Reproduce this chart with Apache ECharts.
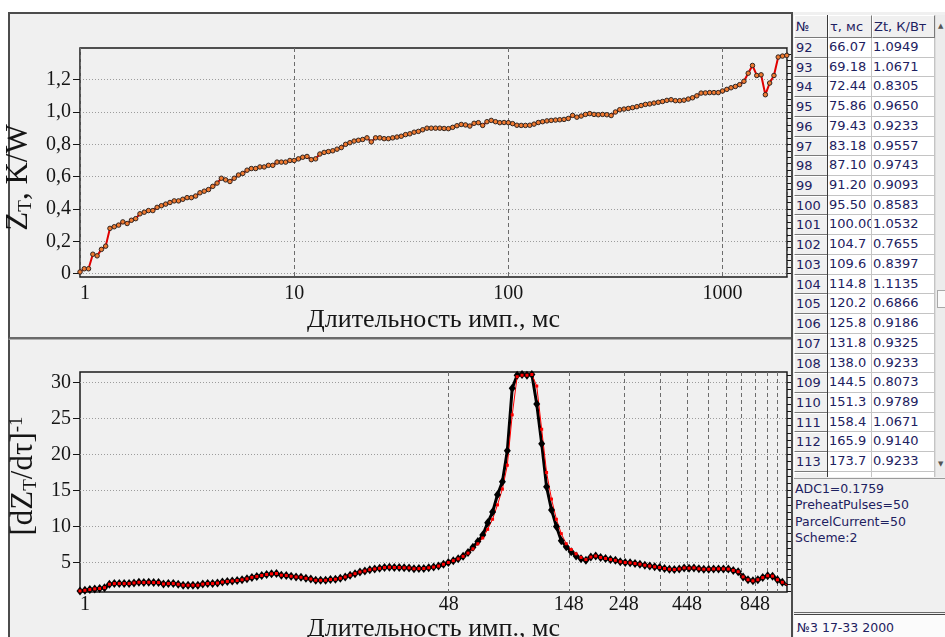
<!DOCTYPE html>
<html>
<head>
<meta charset="utf-8">
<script src="https://cdn.jsdelivr.net/npm/echarts@6/dist/echarts.min.js"></script>
<style>
  html, body { margin: 0; padding: 0; width: 945px; height: 637px; overflow: hidden; background: #fff; position: relative; }
  .abs { position: absolute; box-sizing: border-box; }
  #pTop { left: 8px; top: 12px; width: 785px; height: 327px; background: #f0f0f0;
          border-left: 2px solid #4c4c4c; border-top: 2px solid #4c4c4c; border-bottom: 2px solid #6a6a6a; }
  #pBot { left: 8px; top: 339px; width: 785px; height: 298px; background: #f0f0f0;
          border-left: 2px solid #4c4c4c; border-top: 1px solid #b0b0b0; }
  #vline { left: 791px; top: 12px; width: 2px; height: 625px; background: #4c4c4c; }
  #chart { position: absolute; left: 0; top: 0; width: 793px; height: 637px; }
  #right { left: 793px; top: 12px; width: 152px; height: 625px; background: #f0f0f0; }
  #tbl { left: 794px; top: 15px; width: 141px; height: 462px; background: #fff; overflow: hidden;
         font-family: "DejaVu Sans", sans-serif; font-size: 13px; color: #1d2160; }
  .cell { position: absolute; box-sizing: border-box; white-space: nowrap; overflow: hidden; padding-left: 1px; }
  .btn { background: #f0f0f0; border-top: 1px solid #fff; border-left: 1px solid #fff;
         border-right: 1px solid #7a7a7a; border-bottom: 1px solid #7a7a7a; }
  .val { background: #fff; border-right: 1px solid #c4c4c4; border-bottom: 1px solid #c4c4c4; }
  #scroll { left: 935px; top: 15px; width: 17px; height: 462px; background: #ececec; border-left: 1px solid #dcdcdc; }
  #thumb { left: 937px; top: 290px; width: 15px; height: 18px; background: #fafafa; border: 1px solid #a8a8a8; }
  .arrow { font-family: "DejaVu Sans", sans-serif; font-size: 7px; color: #555; }
  #info { left: 794px; top: 478px; width: 151px; height: 135px; background: #f0f0f0;
          border-top: 1px solid #9a9a9a; border-bottom: 1px solid #6a6a6a; padding: 2px 0 0 1px;
          font-family: "DejaVu Sans", sans-serif; font-size: 12.5px; line-height: 16.3px; color: #1d2160; }
  #foot { left: 794px; top: 614px; width: 151px; height: 23px; background: #fbfbfb; border-top: 1px solid #444;
          padding: 5px 0 0 3px; font-family: "DejaVu Sans", sans-serif; font-size: 12.5px; color: #1d2160; }
</style>
</head>
<body>
<div id="pTop" class="abs"></div>
<div id="pBot" class="abs"></div>
<div id="chart"></div>
<div id="vline" class="abs"></div>
<div id="right" class="abs"></div>
<div id="tbl" class="abs"></div>
<div id="scroll" class="abs"></div>
<div id="thumb" class="abs"></div>
<div class="abs arrow" style="left:938px;top:22px;">▲</div>
<div class="abs arrow" style="left:938px;top:460px;">▼</div>
<div id="info" class="abs"></div>
<div id="foot" class="abs"></div>

<script>
// pulse duration grid, ms (same grid for both charts)
const tau = [
  1.000, 1.047, 1.096, 1.148, 1.202, 1.259, 1.318, 1.380, 1.445, 1.514,
  1.585, 1.660, 1.738, 1.820, 1.905, 1.995, 2.089, 2.188, 2.291, 2.399,
  2.512, 2.630, 2.754, 2.884, 3.020, 3.162, 3.311, 3.467, 3.631, 3.802,
  3.981, 4.169, 4.365, 4.571, 4.786, 5.012, 5.248, 5.495, 5.754, 6.026,
  6.310, 6.607, 6.918, 7.244, 7.586, 7.943, 8.318, 8.710, 9.120, 9.550,
  10.00, 10.47, 10.96, 11.48, 12.02, 12.59, 13.18, 13.80, 14.45, 15.14,
  15.85, 16.60, 17.38, 18.20, 19.05, 19.95, 20.89, 21.88, 22.91, 23.99,
  25.12, 26.30, 27.54, 28.84, 30.20, 31.62, 33.11, 34.67, 36.31, 38.02,
  39.81, 41.69, 43.65, 45.71, 47.86, 50.12, 52.48, 54.95, 57.54, 60.26,
  63.10, 66.07, 69.18, 72.44, 75.86, 79.43, 83.18, 87.10, 91.20, 95.50,
  100.0, 104.7, 109.6, 114.8, 120.2, 125.9, 131.8, 138.0, 144.5, 151.4,
  158.5, 166.0, 173.8, 182.0, 190.5, 199.5, 208.9, 218.8, 229.1, 239.9,
  251.2, 263.0, 275.4, 288.4, 302.0, 316.2, 331.1, 346.7, 363.1, 380.2,
  398.1, 416.9, 436.5, 457.1, 478.6, 501.2, 524.8, 549.5, 575.4, 602.6,
  631.0, 660.7, 691.8, 724.4, 758.6, 794.3, 831.8, 871.0, 912.0, 955.0,
  1000, 1047, 1096, 1148, 1202, 1259, 1318, 1380, 1445, 1514,
  1585, 1660, 1738, 1820, 1905, 1995
];

// thermal impedance Zt, K/W (top chart)
const zt = [
  0.01, 0.03, 0.03, 0.12, 0.11, 0.15, 0.17, 0.28, 0.29, 0.30,
  0.32, 0.31, 0.33, 0.34, 0.37, 0.38, 0.39, 0.39, 0.41, 0.42,
  0.43, 0.44, 0.45, 0.45, 0.46, 0.47, 0.47, 0.48, 0.50, 0.51,
  0.52, 0.54, 0.56, 0.59, 0.58, 0.57, 0.59, 0.61, 0.62, 0.64,
  0.65, 0.65, 0.66, 0.66, 0.67, 0.67, 0.69, 0.69, 0.69, 0.70,
  0.70, 0.71, 0.72, 0.725, 0.705, 0.71, 0.74, 0.75, 0.755, 0.76,
  0.77, 0.78, 0.80, 0.81, 0.82, 0.825, 0.83, 0.84, 0.815, 0.84,
  0.84, 0.835, 0.835, 0.84, 0.845, 0.85, 0.86, 0.865, 0.875, 0.88,
  0.89, 0.90, 0.90, 0.90, 0.90, 0.898, 0.897, 0.905, 0.915, 0.923,
  0.92, 0.913, 0.93, 0.934, 0.917, 0.94, 0.948, 0.94, 0.934, 0.935,
  0.934, 0.928, 0.918, 0.917, 0.917, 0.918, 0.925, 0.935, 0.94, 0.945,
  0.948, 0.95, 0.952, 0.954, 0.96, 0.979, 0.968, 0.975, 0.985, 0.99,
  0.985, 0.983, 0.985, 0.983, 0.978, 1.0, 1.014, 1.018, 1.022, 1.027,
  1.033, 1.04, 1.047, 1.05, 1.055, 1.06, 1.065, 1.072, 1.076, 1.07,
  1.07, 1.073, 1.08, 1.088, 1.10, 1.117, 1.118, 1.12, 1.12, 1.12,
  1.13, 1.14, 1.15, 1.158, 1.169, 1.19, 1.24, 1.288, 1.226, 1.23,
  1.107, 1.179, 1.226, 1.34, 1.346, 1.35
];

// [dZt/dtau]^-1, bottom chart, starts at tau[9]
const derivStart = 9;
const derivBlack = [
  1.05, 1.14, 1.24, 1.33, 1.38, 1.5, 1.98, 2.07, 2.07, 2.07,
  2.07, 2.16, 2.25, 2.21, 2.25, 2.21, 2.21, 2.02, 2.07, 2.07,
  1.98, 1.84, 1.84, 1.84, 1.84, 2.0, 2.07, 2.07, 2.14, 2.28,
  2.37, 2.43, 2.5, 2.6, 2.73, 2.93, 3.06, 3.19, 3.33, 3.42,
  3.47, 3.23, 3.2, 3.08, 2.99, 2.95, 2.8, 2.7, 2.53, 2.53,
  2.53, 2.63, 2.67, 2.81, 2.99, 3.22, 3.45, 3.68, 3.82, 4.0,
  4.1, 4.19, 4.29, 4.34, 4.3, 4.3, 4.26, 4.25, 4.13, 4.15,
  4.16, 4.26, 4.36, 4.5, 4.75, 5.0, 5.25, 5.5, 5.85, 6.4,
  7.1, 7.9, 8.8, 10.5, 12.0, 14.4, 16.2, 20.5, 29.2, 31.0,
  31.1, 31.0, 31.1, 27.0, 21.5, 15.5, 12.3, 10.0, 8.0, 7.2,
  6.5, 5.9, 5.5, 5.3, 5.75, 5.9, 5.7, 5.55, 5.4, 5.3,
  5.1, 5.0, 4.95, 4.86, 4.76, 4.62, 4.5, 4.4, 4.3, 4.17,
  4.07, 4.02, 4.1, 4.24, 4.2, 4.25, 4.12, 4.07, 4.06, 4.1,
  4.11, 4.11, 4.08, 3.9, 3.72, 3.0, 2.6, 2.45, 2.6, 2.9,
  3.15, 3.1, 2.6, 2.25, 1.84
];
const derivRed = [
  1.05, 1.14, 1.24, 1.33, 1.38, 1.5, 1.98, 2.07, 2.07, 2.07,
  2.07, 2.16, 2.25, 2.21, 2.25, 2.21, 2.21, 2.02, 2.07, 2.07,
  1.98, 1.84, 1.84, 1.84, 1.84, 2.0, 2.07, 2.07, 2.14, 2.28,
  2.37, 2.43, 2.5, 2.6, 2.73, 2.93, 3.06, 3.19, 3.33, 3.42,
  3.47, 3.23, 3.2, 3.08, 2.99, 2.95, 2.8, 2.7, 2.53, 2.53,
  2.53, 2.63, 2.67, 2.81, 2.99, 3.22, 3.45, 3.68, 3.82, 4.0,
  4.1, 4.19, 4.29, 4.34, 4.3, 4.3, 4.26, 4.25, 4.13, 4.15,
  4.16, 4.26, 4.36, 4.5, 4.75, 5.0, 5.25, 5.5, 5.85, 6.3,
  6.9, 7.6, 8.4, 9.6, 11.0, 13.0, 15.2, 18.5, 25.5, 30.8,
  31.0, 31.0, 31.1, 29.5, 23.5, 17.5, 13.8, 11.0, 9.0, 7.6,
  6.8, 6.2, 5.7, 5.4, 5.75, 5.9, 5.7, 5.55, 5.4, 5.3,
  5.1, 5.0, 4.95, 4.86, 4.76, 4.62, 4.5, 4.4, 4.3, 4.17,
  4.07, 4.02, 4.1, 4.24, 4.2, 4.25, 4.12, 4.07, 4.06, 4.1,
  4.11, 4.11, 4.08, 3.9, 3.72, 3.0, 2.6, 2.45, 2.6, 2.9,
  3.15, 3.1, 2.6, 2.25, 1.84
];

// tick labels
const ztTicks = [0, 0.2, 0.4, 0.6, 0.8, 1.0, 1.2];
const derivTicks = [5, 10, 15, 20, 25, 30];
const derivXLabels = [1.515, 48, 148, 248, 448, 848];
const derivXGrid = [48, 148, 248, 348, 448, 548, 648, 748, 848, 948, 1048];

// table on the right
const tblNo = [92, 93, 94, 95, 96, 97, 98, 99, 100, 101, 102, 103, 104, 105, 106, 107, 108, 109, 110, 111, 112, 113];
const tblTau = ['66.07', '69.18', '72.44', '75.86', '79.43', '83.18', '87.10', '91.20', '95.50', '100.00', '104.7',
  '109.6', '114.8', '120.2', '125.8', '131.8', '138.0', '144.5', '151.3', '158.4', '165.9', '173.7'];
const tblZt = ['1.0949', '1.0671', '0.8305', '0.9650', '0.9233', '0.9557', '0.9743', '0.9093', '0.8583', '1.0532', '0.7655',
  '0.8397', '1.1135', '0.6866', '0.9186', '0.9325', '0.9233', '0.8073', '0.9789', '1.0671', '0.9140', '0.9233'];
const infoLines = ['ADC1=0.1759', 'PreheatPulses=50', 'ParcelCurrent=50', 'Scheme:2'];
const footText = '№3  17-33  2000';

// ---- side panel ----
const tbl = document.getElementById('tbl');
const colX = [0, 34, 78], colW = [34, 44, 63];
function addCell(txt, x, y, w, h, cls) {
  const d = document.createElement('div');
  d.className = 'cell ' + cls;
  d.style.left = x + 'px'; d.style.top = y + 'px';
  d.style.width = w + 'px'; d.style.height = h + 'px';
  d.style.lineHeight = (h - 1) + 'px';
  d.textContent = txt;
  tbl.appendChild(d);
  return d;
}
const headH = 23, rowH = 19.72;
['№', 'τ, мс', 'Zt, К/Вт'].forEach((t, c) => addCell(t, colX[c], 0, colW[c], headH, 'btn'));
for (let r = 0; r <= tblNo.length; r++) {
  const y = headH + r * rowH;
  const no = r < tblNo.length ? String(tblNo[r]) : '';
  addCell(no, colX[0], y, colW[0], rowH, 'btn');
  addCell(r < tblNo.length ? tblTau[r] : '', colX[1], y, colW[1], rowH, 'val');
  addCell(r < tblNo.length ? tblZt[r] : '', colX[2], y, colW[2], rowH, 'val');
}
// dark separator after the number column
const sep = document.createElement('div');
sep.className = 'cell';
sep.style.cssText = 'left:33px;top:0;width:1px;height:462px;background:#3a3a3a;padding:0';
tbl.appendChild(sep);

document.getElementById('info').innerHTML = infoLines.join('<br>');
document.getElementById('foot').textContent = footText;

// ---- charts ----
const serif = '"Liberation Serif", "DejaVu Serif", serif';
const ink = '#151515';
const chart = echarts.init(document.getElementById('chart'));

const ztMinor = [];
for (let v = 0; v <= 1.37; v += 0.04) ztMinor.push(+v.toFixed(2));
const derivMinor = [];
for (let v = 1; v <= 31; v++) derivMinor.push(v);

const dotted = { color: '#9c9c9c', type: [1, 2], width: 1 };
const dashed = { color: '#6c6c6c', type: [4, 3], width: 1 };

function nameStyle(size, padding) {
  return {
    fontFamily: serif, color: ink, padding: padding,
    rich: {
      m: { fontFamily: serif, fontSize: size, color: ink, lineHeight: size + 2 },
      s: { fontFamily: serif, fontSize: 19, color: ink, lineHeight: 12, verticalAlign: 'bottom' },
      p: { fontFamily: serif, fontSize: 19, color: ink, lineHeight: 12, verticalAlign: 'top' }
    }
  };
}

const option = {
  animation: false,
  backgroundColor: 'transparent',
  grid: [
    { left: 80, top: 48, width: 707, height: 229, show: true, borderColor: '#1a1a1a', borderWidth: 1.5,
      containLabel: false, outerBoundsMode: 'none' },
    { left: 80, top: 372, width: 707, height: 220, show: true, borderColor: '#1a1a1a', borderWidth: 1.5,
      containLabel: false, outerBoundsMode: 'none' }
  ],
  xAxis: [
    {
      type: 'log', logBase: 10, gridIndex: 0, min: 1, max: 2000,
      axisLine: { show: false }, axisTick: { show: false },
      axisLabel: {
        fontFamily: serif, fontSize: 20, color: ink, margin: 7, alignMinLabel: 'left',
        showMaxLabel: false, formatter: v => String(Math.round(v))
      },
      splitLine: { show: true, lineStyle: dashed },
      name: 'Длительность имп., мс', nameLocation: 'middle', nameGap: 30,
      nameTextStyle: { fontFamily: serif, fontSize: 26, color: ink }
    },
    {
      type: 'log', logBase: 10, gridIndex: 1, min: 1.514, max: 1145,
      axisLine: { show: false },
      axisTick: { show: false, customValues: derivXGrid },
      axisLabel: {
        fontFamily: serif, fontSize: 20, color: ink, margin: 3, alignMinLabel: 'left',
        customValues: derivXLabels,
        formatter: v => (v < 2 ? '1' : String(Math.round(v)))
      },
      splitLine: { show: true, lineStyle: dashed },
      name: 'Длительность имп., мс', nameLocation: 'middle', nameGap: 24,
      nameTextStyle: { fontFamily: serif, fontSize: 26, color: ink }
    }
  ],
  yAxis: [
    {
      type: 'value', gridIndex: 0, min: -0.021, max: 1.396,
      axisLine: { show: false },
      axisTick: { show: true, length: 7, customValues: ztTicks, lineStyle: { color: ink } },
      axisLabel: {
        fontFamily: serif, fontSize: 20, color: ink, margin: 9, customValues: ztTicks,
        formatter: v => (v === 0 ? '0' : v.toFixed(1).replace('.', ','))
      },
      splitLine: { show: true, lineStyle: dotted },
      name: '{m|Z}{s|T}{m|, K/W}', nameLocation: 'middle', nameRotate: 90, nameGap: 37,
      nameTextStyle: nameStyle(31, [0, 30, 0, 0])
    },
    {
      type: 'value', gridIndex: 0, min: -0.021, max: 1.396,
      axisLine: { show: false }, axisLabel: { show: false }, splitLine: { show: false },
      axisTick: { show: true, length: 4, customValues: ztMinor, lineStyle: { color: ink } }
    },
    {
      type: 'value', gridIndex: 1, min: 0.9, max: 31.45,
      axisLine: { show: false },
      axisTick: { show: true, length: 7, customValues: derivTicks, lineStyle: { color: ink } },
      axisLabel: { fontFamily: serif, fontSize: 20, color: ink, margin: 9, customValues: derivTicks },
      splitLine: { show: true, lineStyle: dotted },
      name: '{m|[dZ}{s|T}{m|/dτ]}{p|-1}', nameLocation: 'middle', nameRotate: 90, nameGap: 34,
      nameTextStyle: nameStyle(31, [0, 0, 0, 12])
    },
    {
      type: 'value', gridIndex: 1, min: 0.9, max: 31.45,
      axisLine: { show: false }, axisLabel: { show: false }, splitLine: { show: false },
      axisTick: { show: true, length: 4, customValues: derivMinor, lineStyle: { color: ink } }
    }
  ],
  series: [
    {
      type: 'line', xAxisIndex: 0, yAxisIndex: 0,
      data: tau.map((t, i) => [t, zt[i]]),
      symbol: 'circle', symbolSize: 4.5,
      itemStyle: { color: '#f07a30', borderColor: '#2e2420', borderWidth: 1 },
      lineStyle: { color: '#e00000', width: 2 }
    },
    {
      type: 'line', xAxisIndex: 1, yAxisIndex: 2,
      data: derivBlack.map((v, i) => [tau[derivStart + i], v]),
      symbol: 'diamond', symbolSize: [7, 9],
      itemStyle: { color: '#000' },
      lineStyle: { color: '#000', width: 3 }
    },
    {
      type: 'line', xAxisIndex: 1, yAxisIndex: 2,
      data: derivRed.map((v, i) => [tau[derivStart + i], v]),
      symbol: 'rect', symbolSize: 3,
      itemStyle: { color: '#ff0000' },
      lineStyle: { color: '#ff0000', width: 1 }
    }
  ]
};
chart.setOption(option);
</script>
</body>
</html>
